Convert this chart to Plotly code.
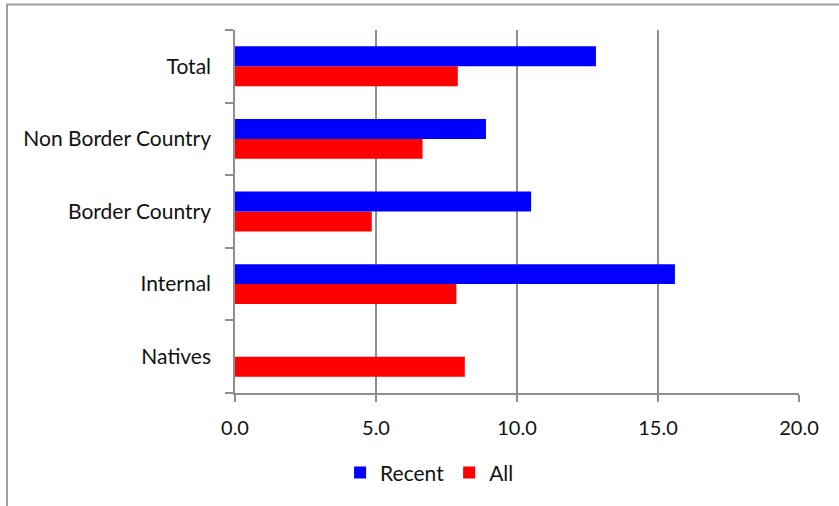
import plotly.graph_objects as go

# Categories listed bottom-to-top along the y axis
categories = ["Natives", "Internal", "Border Country", "Non Border Country", "Total"]
recent = [None, 15.6, 10.5, 8.9, 12.8]
all_migrants = [8.15, 7.85, 4.85, 6.65, 7.9]
x_ticks = [0, 5, 10, 15, 20]

GRID = "#8e8e8e"
FAMILY = "Lato, 'Open Sans', sans-serif"
LABEL_FONT = dict(family=FAMILY, size=21, color="#111111")
TICK_FONT = dict(family=FAMILY, size=20, color="#111111")

fig = go.Figure()
# "All" is added first so that it sits in the lower slot of each group
fig.add_trace(go.Bar(
    y=categories, x=all_migrants, name="All", orientation="h",
    marker=dict(color="#ff0000", line=dict(width=0)),
))
fig.add_trace(go.Bar(
    y=categories, x=recent, name="Recent", orientation="h",
    marker=dict(color="#0000ff", line=dict(width=0)),
))

fig.update_layout(
    width=839, height=506,
    margin=dict(l=235, r=40, t=30, b=113),
    paper_bgcolor="white", plot_bgcolor="white",
    barmode="group", bargap=0.45, bargroupgap=0,
    font=LABEL_FONT,
    showlegend=True,
    legend=dict(
        orientation="h", traceorder="reversed",
        x=0.345, xanchor="center", y=-0.22, yanchor="middle",
        font=LABEL_FONT, itemwidth=30, bgcolor="rgba(0,0,0,0)",
    ),
    xaxis=dict(
        range=[0, 20], tickvals=x_ticks, tickformat=".1f",
        tickfont=TICK_FONT,
        showgrid=True, gridcolor=GRID, gridwidth=1.5,
        showline=True, linecolor=GRID, linewidth=1.5,
        ticks="outside", ticklen=7, tickcolor=GRID, tickwidth=1.5,
        ticklabelstandoff=9, zeroline=False, fixedrange=True,
    ),
    yaxis=dict(
        categoryorder="array", categoryarray=categories,
        tickfont=LABEL_FONT,
        showline=True, linecolor=GRID, linewidth=1.5,
        ticks="outside", ticklen=8, tickcolor=GRID, tickwidth=1.5,
        tickson="boundaries", ticklabelstandoff=18,
        showgrid=False, zeroline=False, fixedrange=True,
    ),
    shapes=[dict(
        type="rect", xref="paper", yref="paper",
        x0=(7 - 235) / 564, x1=(850 - 235) / 564,
        y0=(393 - 520) / 363, y1=(393 - 4.5) / 363,
        line=dict(color="#a0a0a0", width=2), layer="below",
    )],
)

fig.write_html("out.html")
